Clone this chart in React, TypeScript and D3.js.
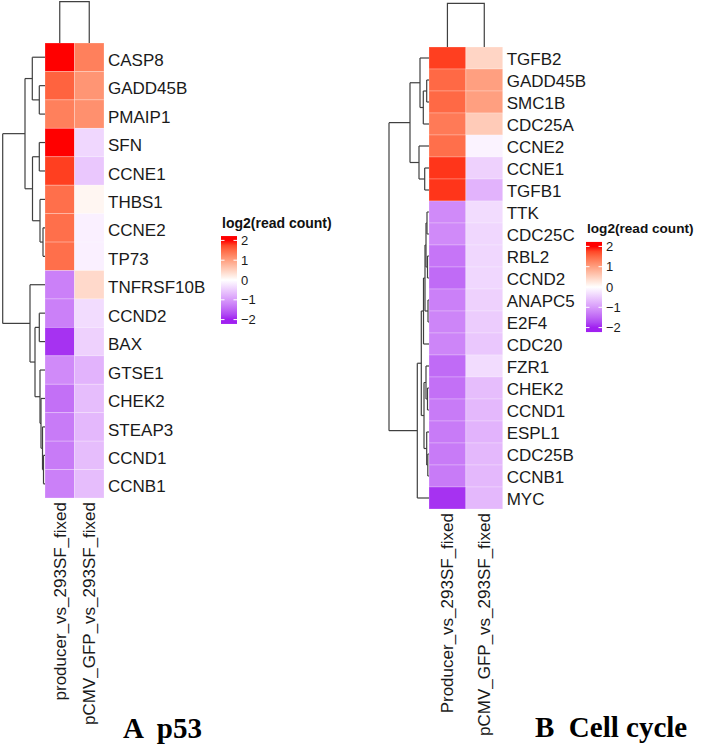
import React from 'react';
import * as d3 from 'd3';

// ---- p53 pathway ----
const P53_GENES = ['CASP8', 'GADD45B', 'PMAIP1', 'SFN', 'CCNE1', 'THBS1', 'CCNE2', 'TP73', 'TNFRSF10B', 'CCND2', 'BAX', 'GTSE1', 'CHEK2', 'STEAP3', 'CCND1', 'CCNB1'];
const P53_PRODUCER = [2.05, 1.55, 1.3, 2.1, 1.8, 1.45, 1.45, 1.45, -1.25, -1.25, -1.9, -1.15, -1.4, -1.3, -1.3, -1.25];
const P53_PCMV = [1.3, 1.1, 1.15, -0.4, -0.55, 0.1, -0.15, -0.15, 0.4, -0.35, -0.45, -0.75, -0.65, -0.7, -0.65, -0.65];
const P53_COLUMNS = ['producer_vs_293SF_fixed', 'pCMV_GFP_vs_293SF_fixed'];

// ---- cell cycle ----
const CC_GENES = ['TGFB2', 'GADD45B', 'SMC1B', 'CDC25A', 'CCNE2', 'CCNE1', 'TGFB1', 'TTK', 'CDC25C', 'RBL2', 'CCND2', 'ANAPC5', 'E2F4', 'CDC20', 'FZR1', 'CHEK2', 'CCND1', 'ESPL1', 'CDC25B', 'CCNB1', 'MYC'];
const CC_PRODUCER = [1.8, 1.5, 1.5, 1.35, 1.45, 1.85, 1.85, -1.15, -1.15, -1.35, -1.45, -1.25, -1.2, -1.2, -1.45, -1.4, -1.3, -1.3, -1.3, -1.3, -1.9];
const CC_PCMV = [0.45, 1.0, 1.0, 0.55, -0.12, -0.45, -0.75, -0.35, -0.4, -0.4, -0.4, -0.45, -0.5, -0.55, -0.35, -0.65, -0.7, -0.75, -0.7, -0.7, -0.7];
const CC_COLUMNS = ['Producer_vs_293SF_fixed', 'pCMV_GFP_vs_293SF_fixed'];

// hclust trees: [left, right, merge height]
type Tree = string | [Tree, Tree, number];

const P53_ROW_TREE: Tree = [
  [
    ['CASP8', ['GADD45B', 'PMAIP1', 0.57], 1.27],
    [['SFN', 'CCNE1', 0.57], ['THBS1', ['CCNE2', 'TP73', 0.2], 0.5], 1.25],
    2.0,
  ],
  [
    'TNFRSF10B',
    [['CCND2', 'BAX', 0.57], ['GTSE1', ['CHEK2', ['STEAP3', ['CCND1', 'CCNB1', 0.15], 0.25], 0.4], 0.5], 1.0],
    1.5,
  ],
  4.23,
];

const CC_ROW_TREE: Tree = [
  [
    ['TGFB2', [['GADD45B', 'SMC1B', 0.23], 'CDC25A', 0.57], 0.9],
    ['CCNE2', ['CCNE1', 'TGFB1', 0.43], 1.0],
    1.9,
  ],
  [
    [
      [[[['TTK', 'CDC25C', 0.2], ['RBL2', 'CCND2', 0.15], 0.3], ['ANAPC5', 'E2F4', 0.1], 0.4], 'CDC20', 0.55],
      [['FZR1', ['CHEK2', 'CCND1', 0.15], 0.3], ['ESPL1', ['CDC25B', 'CCNB1', 0.12], 0.23], 0.5],
      0.77,
    ],
    'MYC',
    1.17,
  ],
  4.0,
];

const P53_COL_HEIGHT = 4.13;
const CC_COL_HEIGHT = 4.37;

const LEGEND_TICKS = [2, 1, 0, -1, -2];

const PX_PER_UNIT = 10;
const SANS = '"Liberation Sans", Arial, Helvetica, sans-serif';
const SERIF = '"Liberation Serif", "Times New Roman", serif';

const color = d3.scaleLinear<string>()
  .domain([-2, 0, 2])
  .range(['#A020F0', '#FFFFFF', '#FF0000'])
  .interpolate(d3.interpolateLab)
  .clamp(true);

interface PanelProps {
  id: string;
  genes: string[];
  producer: number[];
  pcmv: number[];
  columns: string[];
  tree: Tree;
  colHeight: number;
  heat: { x0: number; x1: number; y0: number; y1: number };
  labelDy: number;
  legend: { x: number; titleY: number; zeroY: number; unit: number; titleSize: number };
  title: { x: number; y: number; text: string };
}

const Panel: React.FC<PanelProps> = ({ id, genes, producer, pcmv, columns, tree, colHeight, heat, labelDy, legend, title }) => {
  const yScale = d3.scaleBand().domain(genes).range([heat.y0, heat.y1]);
  const xScale = d3.scaleBand().domain(columns).range([heat.x0, heat.x1]);
  const hScale = d3.scaleLinear().domain([0, 1]).range([heat.x0, heat.x0 - PX_PER_UNIT]);
  const vScale = d3.scaleLinear().domain([0, 1]).range([heat.y0, heat.y0 - PX_PER_UNIT]);
  const bw = yScale.bandwidth();

  // walk the row tree, collecting elbow segments
  const segs: [number, number, number, number][] = [];
  const layout = (t: Tree): { y: number; h: number } => {
    if (typeof t === 'string') return { y: (yScale(t) ?? 0) + bw / 2, h: 0 };
    const a = layout(t[0]);
    const b = layout(t[1]);
    const x = hScale(t[2]);
    segs.push([x, a.y, x, b.y]);
    segs.push([x, a.y, hScale(a.h), a.y]);
    segs.push([x, b.y, hScale(b.h), b.y]);
    return { y: (a.y + b.y) / 2, h: t[2] };
  };
  layout(tree);

  const cx = columns.map(c => (xScale(c) ?? 0) + xScale.bandwidth() / 2);
  const colTop = vScale(colHeight);

  const rows = genes.map((g, i) => ({ gene: g, values: [producer[i], pcmv[i]] }));

  const barTopV = 2.22;
  const barW = 16;
  const gy = (v: number) => legend.zeroY - v * legend.unit;
  const barTop = gy(barTopV);
  const barBottom = gy(-barTopV);
  const off = (v: number) => `${((gy(v) - barTop) / (barBottom - barTop)) * 100}%`;
  const stops = d3.range(2, -2.01, -0.25);

  return (
    <g>
      <defs>
        <linearGradient id={`grad-${id}`} x1="0" y1="0" x2="0" y2="1">
          <stop offset="0%" stopColor={color(2)} />
          {stops.map(v => <stop key={v} offset={off(v)} stopColor={color(v)} />)}
          <stop offset="100%" stopColor={color(-2)} />
        </linearGradient>
      </defs>

      {/* heatmap cells */}
      {rows.map(r => r.values.map((v, j) => (
        <rect key={`${r.gene}-${j}`}
          x={xScale(columns[j])} y={yScale(r.gene)}
          width={xScale.bandwidth()} height={bw}
          fill={color(v)} stroke="#ffffff" strokeOpacity={0.3} strokeWidth={0.8} />
      )))}

      {/* dendrograms */}
      <g stroke="#404040" strokeWidth={1.2} fill="none">
        {segs.map((s, i) => <line key={i} x1={s[0]} y1={s[1]} x2={s[2]} y2={s[3]} />)}
        <path d={`M${cx[0]},${heat.y0}V${colTop}H${cx[1]}V${heat.y0}`} />
      </g>

      {/* row labels */}
      {genes.map(g => (
        <text key={g} x={heat.x1 + 4} y={(yScale(g) ?? 0) + bw / 2 + labelDy}
          fontFamily={SANS} fontSize={17} fill="#1a1a1a">{g}</text>
      ))}

      {/* column labels */}
      {columns.map((c, j) => (
        <text key={c} transform={`translate(${cx[j]},${heat.y1 + 4}) rotate(-90)`}
          textAnchor="end" dy="0.35em" fontFamily={SANS} fontSize={17} fill="#1a1a1a">{c}</text>
      ))}

      {/* legend */}
      <text x={legend.x + 1} y={legend.titleY} fontFamily={SANS} fontWeight="bold"
        fontSize={legend.titleSize} fill="#111">log2(read count)</text>
      <rect x={legend.x} y={barTop} width={barW} height={barBottom - barTop} fill={`url(#grad-${id})`} />
      {LEGEND_TICKS.map(t => (
        <g key={t}>
          <line x1={legend.x} x2={legend.x + 3.5} y1={gy(t)} y2={gy(t)} stroke="#fff" strokeWidth={1} />
          <line x1={legend.x + barW - 3.5} x2={legend.x + barW} y1={gy(t)} y2={gy(t)} stroke="#fff" strokeWidth={1} />
          <text x={legend.x + barW + 4} y={gy(t)} dy="0.36em" fontFamily={SANS} fontSize={13} fill="#1a1a1a">
            {t < 0 ? `\u2212${-t}` : `${t}`}
          </text>
        </g>
      ))}

      {/* panel title */}
      <text x={title.x} y={title.y} fontFamily={SERIF} fontWeight="bold" fontSize={29}
        style={{ whiteSpace: 'pre' }} fill="#000">{title.text}</text>
    </g>
  );
};

export default function App() {
  return (
    <svg width={702} height={749} style={{ position: 'absolute', left: 0, top: 0, background: '#fff' }}>
      <rect width={702} height={749} fill="#fff" />
      <Panel id="p53" genes={P53_GENES} producer={P53_PRODUCER} pcmv={P53_PCMV}
        columns={P53_COLUMNS} tree={P53_ROW_TREE} colHeight={P53_COL_HEIGHT}
        heat={{ x0: 45, x1: 104, y0: 43, y1: 498 }} labelDy={8.6}
        legend={{ x: 221, titleY: 228, zeroY: 280, unit: 19.8, titleSize: 14 }}
        title={{ x: 123, y: 738, text: 'A  p53' }} />
      <Panel id="cc" genes={CC_GENES} producer={CC_PRODUCER} pcmv={CC_PCMV}
        columns={CC_COLUMNS} tree={CC_ROW_TREE} colHeight={CC_COL_HEIGHT}
        heat={{ x0: 429, x1: 502.7, y0: 47, y1: 509 }} labelDy={7}
        legend={{ x: 586, titleY: 233, zeroY: 287, unit: 20.3, titleSize: 13.6 }}
        title={{ x: 535, y: 737, text: 'B  Cell cycle' }} />
    </svg>
  );
}
